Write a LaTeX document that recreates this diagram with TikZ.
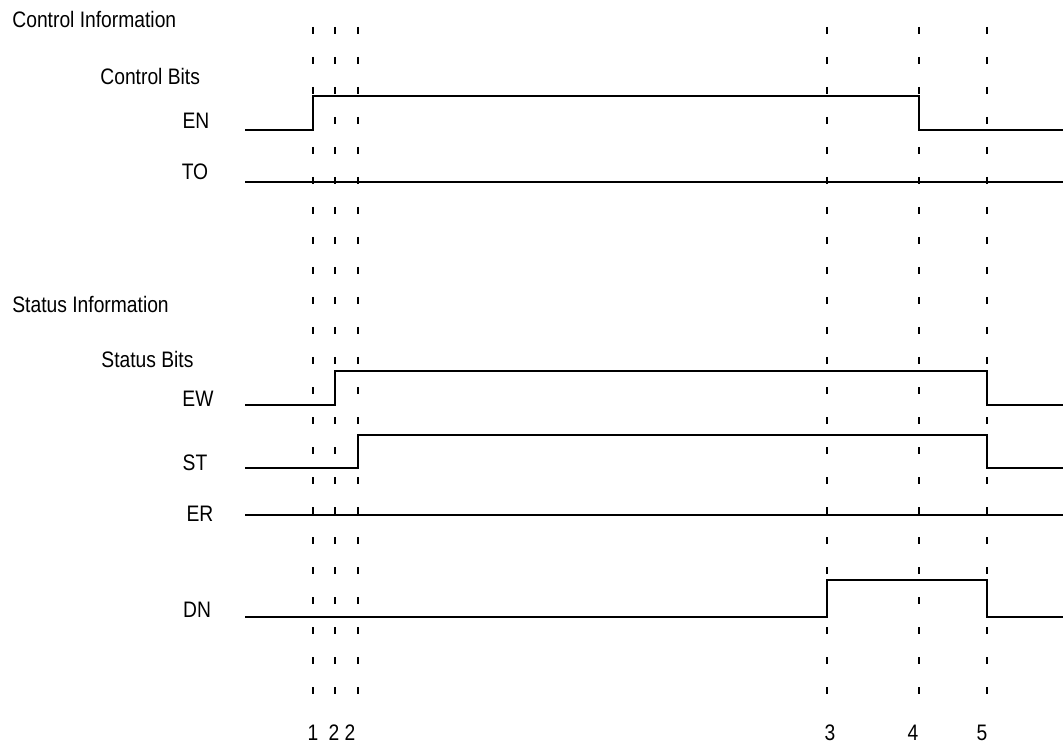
\documentclass[tikz,border=0pt]{standalone}
\usepackage{fontspec}
\setmainfont[FakeStretch=0.86]{Liberation Sans}
\usepackage{tikz}

\begin{document}
\begin{tikzpicture}[
    x=0.5pt, y=-0.5pt,
    every node/.style={font=\fontsize{11.2pt}{13pt}\selectfont, inner sep=0pt},
    head/.style={anchor=base west},
    bitlbl/.style={anchor=base},
    sig/.style={line width=1.1pt},
    tmark/.style={line width=1.1pt, dash pattern=on 3.5pt off 11.5pt},
]
\useasboundingbox (0,0) rectangle (1063,742);
% === Time markers ===
\draw[tmark] (313,27) -- (313,700);
\draw[tmark] (335,27) -- (335,700);
\draw[tmark] (358,27) -- (358,700);
\draw[tmark] (827,27) -- (827,700);
\draw[tmark] (919,27) -- (919,700);
\draw[tmark] (987,27) -- (987,700);
% === Control Information ===
\node[head] (ctrlinfo) at (12,28) {Control Information};
\node[head] (ctrlbits) at (100,85) {Control Bits};
\node[bitlbl] (en) at (196,129) {EN};
\node[bitlbl] (to) at (195,180) {TO};
\draw[sig] (245,130) -- (313,130) -- (313,96) -- (919,96) -- (919,130) -- (1063,130);
\draw[sig] (245,182) -- (1063,182);
% === Status Information ===
\node[head] (statinfo) at (12,313) {Status Information};
\node[head] (statbits) at (101,368) {Status Bits};
\node[bitlbl] (ew) at (198,407) {EW};
\node[bitlbl] (st) at (195,470) {ST};
\node[bitlbl] (er) at (200,521) {ER};
\node[bitlbl] (dn) at (197,617) {DN};
\draw[sig] (245,405) -- (335,405) -- (335,371) -- (987,371) -- (987,405) -- (1063,405);
\draw[sig] (245,468) -- (358,468) -- (358,435) -- (987,435) -- (987,468) -- (1063,468);
\draw[sig] (245,515) -- (1063,515);
\draw[sig] (245,617) -- (827,617) -- (827,580) -- (987,580) -- (987,617) -- (1063,617);
% === Time numbers ===
\node[bitlbl] (t1) at (313,740) {1};
\node[bitlbl] (t2) at (334,740) {2};
\node[bitlbl] (t2b) at (350,740) {2};
\node[bitlbl] (t3) at (830,740) {3};
\node[bitlbl] (t4) at (913,740) {4};
\node[bitlbl] (t5) at (982,740) {5};
\end{tikzpicture}
\end{document}
